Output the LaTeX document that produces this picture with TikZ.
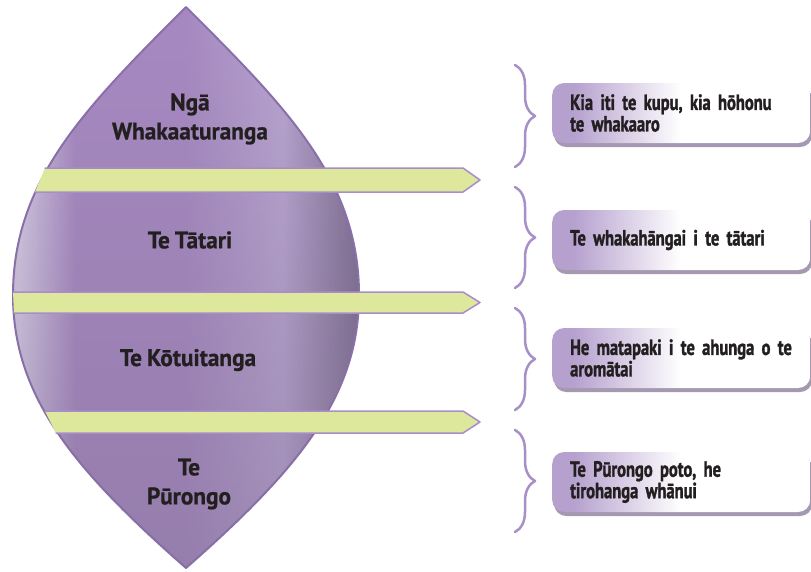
\documentclass[tikz,border=0pt]{standalone}
\usepackage{fontspec}
\setmainfont{PT Sans}
\newfontfamily\stagefont{PT Sans Bold}[FakeStretch=0.97, WordSpace=0.85, FakeBold=0.8]
\newfontfamily\notefont{PT Sans Bold}[FakeStretch=0.75, WordSpace=0.8, FakeBold=1.4]
\usetikzlibrary{decorations.pathreplacing,shadows,fadings}

\definecolor{leafhi}{HTML}{D6CBE5}
\definecolor{leafmain}{HTML}{A689C1}
\definecolor{leaflight}{HTML}{B8A4D0}
\definecolor{leafdark}{HTML}{7D6D8E}
\definecolor{leafedge}{HTML}{8B70AC}
\definecolor{barfill}{HTML}{DEE89C}
\definecolor{baredge}{HTML}{A98DC9}
\definecolor{bracecol}{HTML}{A78FC7}
\definecolor{boxl}{HTML}{B5A0CE}
\definecolor{txt}{HTML}{231F20}

\pgfdeclarehorizontalshading{leafshade}{100bp}{color(0bp)=(leafhi); color(26bp)=(leafhi); color(34bp)=(leafmain); color(50bp)=(leafmain); color(64bp)=(leaflight); color(75bp)=(leafdark); color(100bp)=(leafdark)}
\pgfdeclarehorizontalshading{boxshade}{100bp}{color(0bp)=(boxl); color(29bp)=(boxl); color(50bp)=(white); color(100bp)=(white)}
\tikzfading[name=leaffade, top color=transparent!100, middle color=transparent!100, bottom color=transparent!60]

\tikzset{
  barstyle/.style={fill=barfill, draw=baredge, line width=1.5pt, line join=round, line cap=round},
  bracestyle/.style={draw=bracecol, line width=2.5pt, decorate, decoration={brace, amplitude=20pt}},
  notebox/.style={rounded corners=12pt, shade, shading=boxshade,
    drop shadow={shadow xshift=2pt, shadow yshift=-4pt, fill=leafdark, opacity=.7},
    text width=222pt, inner xsep=18pt, inner ysep=8pt, minimum height=60pt, align=left,
    font=\notefont\fontsize{22}{21.5}\selectfont, text=txt, anchor=west},
  stagelabel/.style={font=\stagefont\fontsize{24}{29}\selectfont, text=txt, align=center}
}
\newcommand{\leafpath}{(186,7) .. controls (286,107) and (359,180) .. (359,295)
  .. controls (359,395) and (300,468) .. (186,568)
  .. controls (72,468) and (13,395) .. (13,295)
  .. controls (13,180) and (86,107) .. (186,7) -- cycle}

\begin{document}
\begin{tikzpicture}[x=1pt, y=-1pt, line cap=round, line join=round]
  \useasboundingbox (0,0) rectangle (811,571);

  % the leaf
  \path[shade, shading=leafshade, draw=leafedge, line width=2pt] \leafpath;
  \fill[leafdark, path fading=leaffade] \leafpath;

  % the bars
  \draw[barstyle] (45,168) -- (463,168) -- (480,180) -- (463,192) -- (35,192);
  \draw[barstyle] (13,292) -- (463,292) -- (480,302.5) -- (463,313) -- (14,313);
  \draw[barstyle] (45,411) -- (463,411) -- (480,422) -- (463,433) -- (56,433);

  % the stages
  \node[stagelabel] (nga) at (190,119) {Ngā\\Whakaaturanga};
  \node[stagelabel] (tatari) at (190,240) {Te Tātari};
  \node[stagelabel] (kotuitanga) at (188,360) {Te Kōtuitanga};
  \node[stagelabel] (purongo) at (189,484) {Te\\Pūrongo};

  % the braces
  \coordinate (b1t) at (515,65);  \coordinate (b1b) at (515,167);
  \coordinate (b2t) at (515,187); \coordinate (b2b) at (515,288);
  \coordinate (b3t) at (515,308); \coordinate (b3b) at (515,410);
  \coordinate (b4t) at (515,430); \coordinate (b4b) at (515,532);
  \draw[bracestyle] (b1t) -- (b1b);
  \draw[bracestyle] (b2t) -- (b2b);
  \draw[bracestyle] (b3t) -- (b3b);
  \draw[bracestyle] (b4t) -- (b4b);

  % the notes
  \node[notebox] (kupu) at (552,113) {Kia iti te kupu, kia hōhonu\\te whakaaro};
  \node[notebox] (whakahangai) at (552,240) {Te whakahāngai i te tātari};
  \node[notebox] (matapaki) at (552,358) {He matapaki i te ahunga o te\\aromātai};
  \node[notebox] (poto) at (552,482) {Te Pūrongo poto, he\\tirohanga whānui};
\end{tikzpicture}
\end{document}
